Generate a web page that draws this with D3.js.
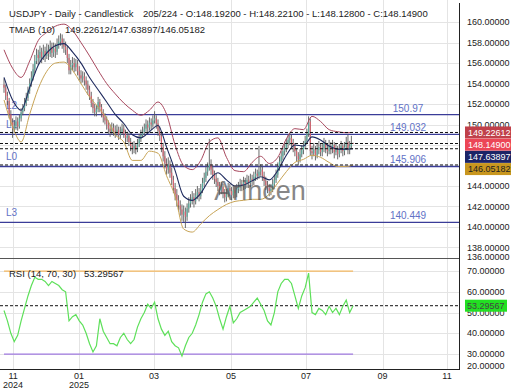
<!DOCTYPE html>
<html>
<head>
<meta charset="utf-8">
<script src="https://cdn.jsdelivr.net/npm/d3@7"></script>
<style>
  body { margin: 0; background: #fff; }
  text { font-family: "Liberation Sans", Arial, sans-serif; }
</style>
</head>
<body>
<div id="chart"></div>
<script>
// ---- data ----
var firstOpen = 153.9;
var closes = [153.6,152.8,152.3,151.0,150.2,149.6,149.9,150.3,149.8,150.6,
  151.2,151.6,152.1,152.6,153.3,154.0,154.6,155.4,156.2,156.8,
  156.5,157.1,156.6,157.2,156.7,157.3,156.9,157.6,157.0,157.4,
  157.1,157.8,158.1,158.4,157.9,157.6,157.3,156.5,155.3,155.8,
  156.0,155.6,155.9,155.2,154.8,154.5,154.7,154.3,153.9,153.4,
  152.8,152.1,151.6,151.2,151.5,152.2,151.7,151.1,150.7,150.4,
  150.0,149.6,149.3,149.7,149.4,149.2,149.5,149.0,149.3,149.6,
  149.1,148.7,148.9,148.3,147.9,147.6,147.9,147.5,148.1,148.6,
  149.0,149.3,149.6,150.0,149.7,150.2,150.0,150.4,150.6,150.1,
  149.4,148.9,147.8,146.9,146.2,145.6,146.1,145.3,144.6,143.8,
  143.2,142.6,142.1,141.7,141.2,141.5,141.0,141.8,142.3,142.6,
  142.9,142.5,143.1,143.4,143.0,143.6,144.3,144.8,145.4,145.8,
  146.1,145.6,145.1,144.7,144.4,144.0,143.6,143.9,143.3,142.9,
  143.2,143.8,143.5,143.1,143.6,143.3,143.7,143.9,144.2,144.0,
  144.4,144.2,144.6,144.3,144.7,144.5,144.9,145.2,145.0,145.4,
  145.6,145.0,144.5,144.1,143.8,143.5,143.7,144.2,144.6,145.1,
  145.8,146.4,146.9,147.4,147.7,148.1,148.5,148.7,148.2,147.9,
  147.4,146.9,146.6,147.1,147.5,147.9,148.4,149.1,150.3,147.4,
  147.2,147.6,147.0,147.5,147.8,147.3,147.6,148.2,147.7,147.4,
  147.9,147.6,148.0,147.3,147.7,147.1,147.6,147.9,147.4,147.8,
  148.3,147.5,147.9,148.192,148.149];
var highs = [154.5,153.9,153.2,152.6,151.4,150.6,150.4,150.8,150.7,151.0,
  151.6,152.0,152.6,153.1,153.7,154.5,155.2,155.9,156.8,157.4,
  157.3,157.7,157.5,157.8,157.6,157.9,157.8,158.2,158.0,158.0,
  157.9,158.4,158.7,158.9,158.8,158.4,158.1,157.7,156.9,156.3,
  156.6,156.5,156.4,156.3,155.7,155.3,155.2,155.1,154.7,154.3,
  153.8,153.2,152.5,152.0,151.9,152.7,152.5,152.0,151.5,151.1,
  150.8,150.4,150.0,150.2,150.1,149.9,150.0,149.8,149.8,150.1,
  150.0,149.5,149.3,149.2,148.7,148.3,148.4,148.2,148.6,149.1,
  149.5,149.8,150.1,150.5,150.4,150.7,150.6,150.9,151.3,150.9,
  150.5,149.8,149.2,148.2,147.4,146.7,146.8,146.5,145.8,145.0,
  144.3,143.7,143.1,142.6,142.2,142.1,141.9,142.3,142.9,143.2,
  143.5,143.3,143.7,144.0,143.8,144.2,144.8,145.3,145.9,146.3,
  148.6,146.6,146.0,145.5,145.2,144.8,144.4,144.4,144.2,143.7,
  143.7,144.3,144.2,143.9,144.1,144.0,144.2,144.4,144.7,144.6,
  144.9,144.8,145.1,145.0,145.2,145.1,145.4,145.7,145.6,147.9,
  146.1,145.9,145.4,144.9,144.5,144.2,144.2,144.7,145.1,145.6,
  146.3,146.9,147.4,147.9,148.3,148.6,149.0,149.2,149.0,148.6,
  148.2,147.7,147.3,147.6,148.0,148.4,148.9,149.6,150.8,150.6,
  147.9,148.2,147.9,148.1,148.4,148.1,148.2,148.7,148.5,148.1,
  148.5,148.3,148.5,148.3,148.2,147.9,148.1,148.4,148.2,148.3,
  148.8,149.0,148.4,148.9,148.221];
var lows = [153.1,152.4,151.9,150.6,149.8,148.7,149.2,149.5,149.4,149.6,
  150.3,150.9,151.3,151.8,152.3,153.0,153.7,154.3,155.0,155.9,
  155.8,156.1,156.0,156.3,156.1,156.4,156.3,156.6,156.5,156.6,
  156.5,156.8,157.4,157.7,157.4,157.0,156.8,156.0,154.9,154.9,
  155.3,155.1,155.2,154.8,154.3,154.0,154.1,153.8,153.4,152.9,
  152.4,151.7,151.1,150.8,150.8,151.2,151.2,150.7,150.2,150.0,
  149.5,149.1,148.8,149.0,148.9,148.7,148.9,148.5,148.6,149.0,
  148.7,148.2,148.3,147.9,147.4,147.1,147.2,147.1,147.3,147.8,
  148.3,148.7,149.0,149.3,149.2,149.4,149.5,149.7,150.1,149.6,
  148.9,148.4,147.3,146.4,145.7,145.1,145.2,144.8,144.1,143.3,
  142.6,142.0,141.6,141.1,140.6,140.5,139.9,140.6,141.4,141.9,
  142.2,141.9,142.2,142.7,142.5,142.7,143.3,143.9,144.4,145.0,
  145.5,145.1,144.6,144.2,143.9,143.5,143.1,143.2,142.8,142.4,
  142.5,142.9,143.0,142.6,142.8,142.8,142.9,143.3,143.5,143.5,
  143.6,143.7,143.8,143.8,143.9,144.0,144.1,144.5,144.6,144.7,
  145.0,144.5,144.0,143.6,143.3,143.0,143.1,143.4,143.9,144.3,
  144.8,145.5,146.0,146.5,147.0,147.3,147.7,148.0,147.7,147.3,
  146.9,146.4,146.0,146.3,146.8,147.1,147.6,148.1,148.8,147.0,
  146.6,146.9,146.5,146.7,147.1,146.9,146.9,147.3,147.2,146.9,
  147.1,147.1,147.2,146.7,147.0,146.6,146.8,147.2,146.9,147.0,
  147.5,147.1,147.1,147.6,148.128];

// TMAB (10) bands, read every 5 bars
var bandIdx = [0,5,10,15,20,25,30,35,40,45,50,55,60,65,70,75,80,85,90,95,100,
  105,110,115,120,125,130,135,140,145,150,155,160,165,170,175,180,185,190,195,200,204];
var bandUpper = [157.3,155.5,154.6,156.2,158.2,159.0,159.6,159.8,159.2,158.0,156.7,
  155.3,154.0,153.0,152.1,151.4,150.9,151.4,152.2,151.0,148.0,146.0,145.6,146.5,148.3,
  148.7,146.8,145.5,145.4,146.3,146.9,146.2,146.8,148.6,149.6,149.5,150.8,150.3,149.5,
  149.3,149.2,149.22612];
var bandMid = [154.6,152.4,151.4,153.6,155.8,157.0,157.7,157.9,157.1,156.0,154.6,
  153.4,152.2,151.0,150.1,149.0,148.7,149.3,149.9,147.8,145.5,143.0,142.6,143.3,144.6,
  145.3,144.6,144.0,144.1,144.5,144.9,144.6,145.5,147.0,148.0,147.9,148.8,148.5,147.9,
  147.6,147.6,147.63897];
var bandLower = [152.4,149.8,148.3,151.0,153.5,155.2,156.0,156.1,155.3,154.0,152.7,
  151.7,150.6,149.0,148.3,146.5,146.5,147.4,147.2,145.0,143.0,139.8,139.5,140.3,141.1,
  141.7,142.2,142.5,142.6,142.7,142.7,143.2,144.3,145.4,146.3,146.6,147.0,146.8,146.3,
  145.9,145.9,146.05182];

// RSI (14), read every 2 bars
var rsiVals = [51,46,40,36,39,46,52,58,63,67,
  66,66,65,63,65,64,63,61,60,46,
  48,49,46,44,40,35,31,34,47,41,
  38,35,35,34,38,40,37,35,37,43,
  47,50,54,52,55,47,42,39,41,36,
  34,33,29,34,38,40,44,49,55,59,
  60,57,53,47,42,48,53,45,47,50,
  51,52,53,55,57,54,51,46,44,50,
  60,64,66,66,64,58,52,58,62,69,
  50,49,52,51,49,53,50,52,49,53,
  56,50,53.29567];

var levelNames = ["L2", "L1", "L0", "L3"];
var levelValues = [150.97, 149.032, 145.906, 140.449];
var levelTexts = ["150.97", "149.032", "145.906", "140.449"];

var markValues = [149.22612, 148.149, 147.63897, 146.05182];
var markTexts = ["149.22612", "148.14900", "147.63897", "146.05182"];
var markFills = ["#c0404a", "#ec4656", "#1c2466", "#c8961e"];
var markInk = ["#fff", "#fff", "#fff", "#222"];

var priceTicks = [136,138,140,142,144,146,148,150,152,154,156,158,160];
var rsiTicks = [20,30,40,50,60,70];
var xTickPos = [5.3, 43.8, 87.7, 132.7, 176.5, 221.2, 258.9];
var xTickLabels = ["11", "01", "03", "05", "07", "09", "11"];
var xTickYears = ["2024", "2025", "", "", "", "", ""];

// ---- layout ----
var W = 520, H = 390;
var plotR = 459;
var pTop = 0, pBot = 258, rTop = 259, rBot = 369;

var svg = d3.select("#chart").append("svg")
  .attr("width", W).attr("height", H)
  .style("display", "block");

var x = d3.scaleLinear().domain([-2.34, 265.9]).range([0, plotR]);
var y = d3.scaleLinear().domain([136.97, 162.16]).range([pBot, pTop]);
var yR = d3.scaleLinear().domain([22.8, 75.8]).range([rBot, rTop]);

var defs = svg.append("defs");
defs.append("clipPath").attr("id", "clipP").append("rect")
  .attr("x", 0).attr("y", pTop).attr("width", plotR).attr("height", pBot - pTop);
defs.append("clipPath").attr("id", "clipR").append("rect")
  .attr("x", 0).attr("y", rTop).attr("width", plotR).attr("height", rBot - rTop);

// grid
var grid = svg.append("g").attr("stroke", "#e4e4e4").attr("stroke-width", 1);
grid.selectAll(".gp").data(priceTicks.filter(function(t) { return y(t) > pTop && y(t) < pBot; }))
  .enter().append("line")
  .attr("x1", 0).attr("x2", plotR)
  .attr("y1", function(d) { return Math.round(y(d)) + 0.5; })
  .attr("y2", function(d) { return Math.round(y(d)) + 0.5; });
grid.selectAll(".gr").data(rsiTicks.filter(function(t) { return yR(t) > rTop && yR(t) < rBot; }))
  .enter().append("line")
  .attr("x1", 0).attr("x2", plotR)
  .attr("y1", function(d) { return Math.round(yR(d)) + 0.5; })
  .attr("y2", function(d) { return Math.round(yR(d)) + 0.5; });
grid.selectAll(".gx").data(xTickPos).enter().append("line")
  .attr("x1", function(d) { return Math.round(x(d)) + 0.5; })
  .attr("x2", function(d) { return Math.round(x(d)) + 0.5; })
  .attr("y1", 0).attr("y2", rBot);

// price panel
var gp = svg.append("g").attr("clip-path", "url(#clipP)");

// level lines
gp.selectAll(".lvl").data(levelValues).enter().append("line")
  .attr("x1", 0).attr("x2", plotR)
  .attr("y1", function(d) { return y(d); }).attr("y2", function(d) { return y(d); })
  .attr("stroke", "#3a3c98").attr("stroke-width", 1.3);

// level labels (left, under candles)
gp.selectAll(".lvlname").data(levelValues).enter().append("text")
  .attr("x", 6).attr("y", function(d) { return y(d) - 6; })
  .attr("font-size", 10).attr("fill", "#6272c6")
  .text(function(d, i) { return levelNames[i]; });

// candles
var bars = closes.map(function(c, i) {
  return { i: i, o: i ? closes[i - 1] : firstOpen, h: highs[i], l: lows[i], c: c };
});
var cg = gp.append("g");
cg.selectAll(".wick").data(bars).enter().append("line")
  .attr("x1", function(d) { return x(d.i); }).attr("x2", function(d) { return x(d.i); })
  .attr("y1", function(d) { return y(d.h); }).attr("y2", function(d) { return y(d.l); })
  .attr("stroke", "#5a5a5a").attr("stroke-width", 0.9);
cg.selectAll(".body").data(bars).enter().append("rect")
  .attr("x", function(d) { return x(d.i) - 0.6; })
  .attr("width", 1.2)
  .attr("y", function(d) { return y(Math.max(d.o, d.c)); })
  .attr("height", function(d) { return Math.max(1, Math.abs(y(d.o) - y(d.c))); })
  .attr("fill", function(d) { return d.c >= d.o ? "#5aae9f" : "#d46470"; });

// TMAB bands
function bandLine(vals) {
  return d3.line()
    .x(function(d, i) { return x(bandIdx[i]); })
    .y(function(d) { return y(d); })
    .curve(d3.curveMonotoneX)(vals);
}
gp.append("path").attr("d", bandLine(bandUpper)).attr("fill", "none")
  .attr("stroke", "#a8485e").attr("stroke-width", 1);
gp.append("path").attr("d", bandLine(bandMid)).attr("fill", "none")
  .attr("stroke", "#1e2a5e").attr("stroke-width", 1.1);
gp.append("path").attr("d", bandLine(bandLower)).attr("fill", "none")
  .attr("stroke", "#c8a456").attr("stroke-width", 1);

// dashed current value lines
gp.selectAll(".mark").data(markValues).enter().append("line")
  .attr("x1", 0).attr("x2", plotR)
  .attr("y1", function(d) { return y(d); }).attr("y2", function(d) { return y(d); })
  .attr("stroke", "#111").attr("stroke-width", 1).attr("stroke-dasharray", "3,2");

// level value labels (right)
gp.selectAll(".lvltxt").data(levelValues).enter().append("text")
  .attr("x", 408).attr("y", function(d) { return y(d) - 3; })
  .attr("text-anchor", "middle")
  .attr("font-size", 10).attr("fill", "#6272c6")
  .text(function(d, i) { return levelTexts[i]; });

// watermark
svg.append("text").attr("x", 260).attr("y", 200)
  .attr("text-anchor", "middle").attr("font-size", 27)
  .attr("fill", "#555").attr("opacity", 0.7)
  .text("Arincen");

// RSI panel
var gr = svg.append("g").attr("clip-path", "url(#clipR)");
gr.append("line").attr("x1", x(0)).attr("x2", x(204))
  .attr("y1", yR(70)).attr("y2", yR(70))
  .attr("stroke", "#f4b860").attr("stroke-width", 1.2);
gr.append("line").attr("x1", x(0)).attr("x2", x(204))
  .attr("y1", yR(30)).attr("y2", yR(30))
  .attr("stroke", "#a07ae0").attr("stroke-width", 1.2);
var lastRsi = rsiVals[rsiVals.length - 1];
gr.append("line").attr("x1", 0).attr("x2", plotR)
  .attr("y1", yR(lastRsi)).attr("y2", yR(lastRsi))
  .attr("stroke", "#111").attr("stroke-width", 1).attr("stroke-dasharray", "3,2");
gr.append("path")
  .attr("d", d3.line()
    .x(function(d, i) { return x(i * 2); })
    .y(function(d) { return yR(d); })(rsiVals))
  .attr("fill", "none").attr("stroke", "#5ee05a").attr("stroke-width", 1.2);

// frame lines
svg.append("line").attr("x1", 0).attr("x2", plotR + 1).attr("y1", rTop - 0.5).attr("y2", rTop - 0.5)
  .attr("stroke", "#555").attr("stroke-width", 1);
svg.append("line").attr("x1", 0).attr("x2", plotR + 1).attr("y1", rBot + 0.5).attr("y2", rBot + 0.5)
  .attr("stroke", "#222").attr("stroke-width", 1);
svg.append("line").attr("x1", plotR + 0.5).attr("x2", plotR + 0.5).attr("y1", 3).attr("y2", rBot + 1)
  .attr("stroke", "#222").attr("stroke-width", 1);

// value boxes on the price axis, stacked so they do not overlap
var boxY = [];
markValues.forEach(function(v, i) {
  var yy = y(v);
  if (i > 0) yy = Math.max(yy, boxY[i - 1] + 12.2);
  boxY.push(yy);
});

// right axis labels (the ones fully under a value box are not shown)
function hidden(py) {
  return boxY.some(function(b) { return Math.abs(b - py) < 5; });
}
var ax = svg.append("g").attr("font-size", 9).attr("fill", "#222");
ax.selectAll(".pt").data(priceTicks.filter(function(t) { return !hidden(y(t)); }))
  .enter().append("text")
  .attr("x", 467).attr("y", function(d) { return Math.min(y(d), 257); })
  .attr("dy", "0.35em")
  .text(function(d) { return d.toFixed(5); });
ax.selectAll(".rt").data(rsiTicks).enter().append("text")
  .attr("x", 467).attr("y", function(d) { return Math.min(yR(d), 366); })
  .attr("dy", "0.35em")
  .text(function(d) { return d.toFixed(5); });

var bx = svg.append("g");
bx.selectAll("rect").data(markValues).enter().append("rect")
  .attr("x", 465).attr("width", 46)
  .attr("y", function(d, i) { return boxY[i] - 6; }).attr("height", 12)
  .attr("fill", function(d, i) { return markFills[i]; });
bx.selectAll("text").data(markValues).enter().append("text")
  .attr("x", 468).attr("y", function(d, i) { return boxY[i]; })
  .attr("dy", "0.35em").attr("font-size", 9)
  .attr("fill", function(d, i) { return markInk[i]; })
  .text(function(d, i) { return markTexts[i]; });

svg.append("rect").attr("x", 465).attr("width", 42)
  .attr("y", yR(lastRsi) - 6).attr("height", 12).attr("fill", "#22e022");
svg.append("text").attr("x", 467).attr("y", yR(lastRsi)).attr("dy", "0.35em")
  .attr("font-size", 9).attr("fill", "#444").text(lastRsi.toFixed(5));

// x axis labels
var xa = svg.append("g").attr("font-size", 9).attr("fill", "#222").attr("text-anchor", "middle");
xa.selectAll(".xm").data(xTickPos).enter().append("text")
  .attr("x", function(d) { return x(d); }).attr("y", 379)
  .text(function(d, i) { return xTickLabels[i]; });
xa.selectAll(".xy").data(xTickPos).enter().append("text")
  .attr("x", function(d) { return x(d); }).attr("y", 387.5)
  .text(function(d, i) { return xTickYears[i]; });

// header texts
var hd = svg.append("g").attr("font-size", 9.5).attr("fill", "#222");
hd.append("text").attr("x", 9).attr("y", 17).text("USDJPY - Daily - Candlestick");
hd.append("text").attr("x", 143).attr("y", 17)
  .text("205/224 - O:148.19200 - H:148.22100 - L:148.12800 - C:148.14900");
hd.append("text").attr("x", 9).attr("y", 33).text("TMAB (10)");
hd.append("text").attr("x", 65).attr("y", 33).text("149.22612/147.63897/146.05182");
hd.append("text").attr("x", 9).attr("y", 276.5).text("RSI (14, 70, 30)");
hd.append("text").attr("x", 84).attr("y", 276.5).text(lastRsi.toFixed(5));
</script>
</body>
</html>
